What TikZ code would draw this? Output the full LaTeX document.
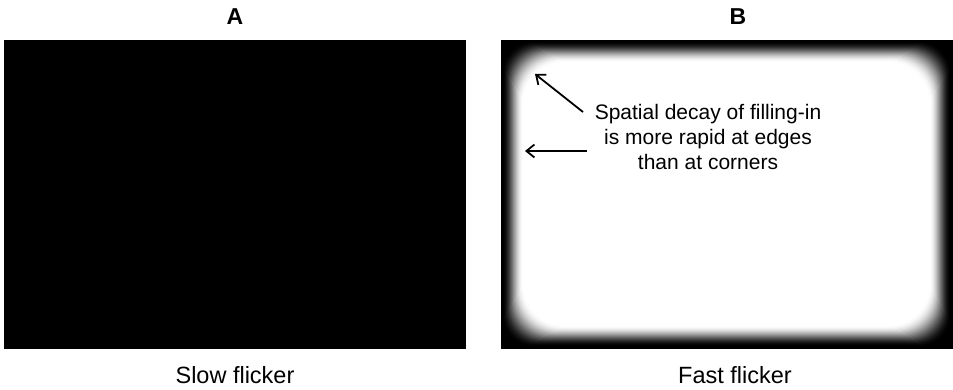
\documentclass[tikz,border=0pt]{standalone}
\usepackage{fontspec}
\setmainfont{Liberation Sans}
\usetikzlibrary{arrows.meta}
\tikzset{
  paneltitle/.style={font=\fontsize{23}{27}\selectfont\bfseries, anchor=center, inner sep=0pt},
  caption/.style={font=\fontsize{23.5}{28}\selectfont, anchor=center, inner sep=0pt},
  note/.style={font=\fontsize{21}{25}\selectfont, align=center, anchor=center, inner sep=0pt},
  pointer/.style={-{Straight Barb[length=8pt,width=13pt]}, line width=1.8pt, black}
}
\begin{document}
\begin{tikzpicture}[x=1pt,y=-1pt]
\useasboundingbox (0,0) rectangle (953,390);
% Panel A
\fill[black] (4,40) rectangle (466,349);
% Panel B
\fill[black] (501,40) rectangle (953,349);
\foreach \i in {0,...,21}{
  \pgfmathsetmacro\t{\i/21}
  \pgfmathsetmacro\p{100*(1-\t*\t*(3-2*\t))}
  \pgfmathsetmacro\r{28+0.7*\i}
  \fill[black!\p, rounded corners=\r pt] (502+\i, 41+\i) rectangle (951-\i, 347-\i);
}
% titles
\node[paneltitle] (tA) at (235,17) {A};
\node[paneltitle] (tB) at (738,17) {B};
\node[caption] (cA) at (235,375) {Slow flicker};
\node[caption] (cB) at (735,375) {Fast flicker};
% annotation
\node[note] (txt) at (708,137) {Spatial decay of filling-in\\is more rapid at edges\\than at corners};
\coordinate (s1) at (583,112);
\coordinate (e1) at (535,74);
\coordinate (s2) at (587,151);
\coordinate (e2) at (525,151);
\draw[pointer] (s1) -- (e1);
\draw[pointer] (s2) -- (e2);
\end{tikzpicture}
\end{document}
